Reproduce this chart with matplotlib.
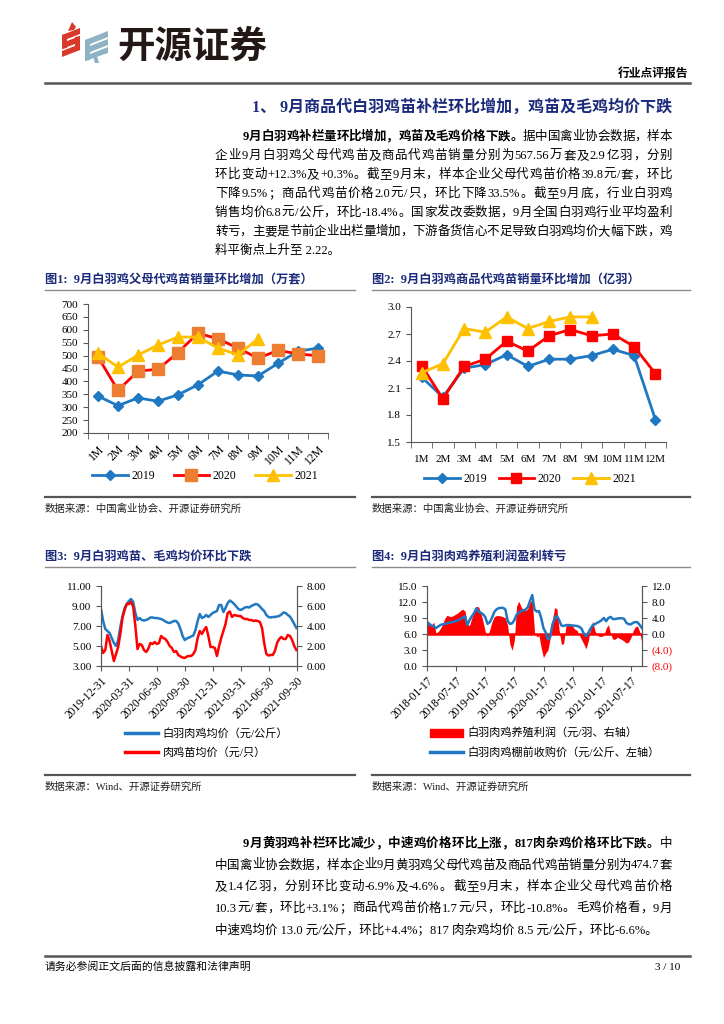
import numpy as np
import pandas as pd
import matplotlib
matplotlib.use('Agg')
import matplotlib.pyplot as plt
from matplotlib.patches import Polygon, Patch
from matplotlib.lines import Line2D
from matplotlib.ticker import FormatStrFormatter

plt.rcParams['font.family'] = ['Liberation Serif', 'Noto Sans CJK SC']
plt.rcParams['axes.unicode_minus'] = False

# ---- data: fig 1 / fig 2 (monthly) ----
months = ['1M', '2M', '3M', '4M', '5M', '6M', '7M', '8M', '9M', '10M', '11M', '12M']
pc_2019 = [343, 306, 336, 323, 348, 387, 440, 425, 421, 470, 517, 529]
pc_2020 = [495, 365, 440, 447, 512, 587, 565, 529, 490, 520, 507, 499]
pc_2021 = [510, 455, 502, 541, 572, 572, 529, 503, 565]
cc_2019 = [2.22, 2.00, 2.32, 2.36, 2.47, 2.34, 2.42, 2.42, 2.46, 2.53, 2.46, 1.75]
cc_2020 = [2.35, 1.98, 2.34, 2.42, 2.62, 2.51, 2.68, 2.75, 2.68, 2.70, 2.56, 2.26]
cc_2021 = [2.27, 2.37, 2.76, 2.72, 2.89, 2.76, 2.84, 2.89, 2.89]

# ---- data: fig 3 (weekly, from 2019-12-31) ----
broiler_price = [8.7, 7.5, 6.7, 6.5, 6.3, 5.8, 5.3, 5.0, 5.6, 6.9,
                 8.0, 8.8, 9.2, 9.5, 9.7, 9.4, 8.3, 7.6, 7.8, 7.6,
                 7.55, 7.6, 7.7, 7.85, 7.85, 7.8, 7.8, 7.75, 7.7, 7.6,
                 7.45, 7.35, 7.3, 7.4, 7.5, 7.5, 7.25, 6.7, 6.0, 5.6,
                 5.75, 5.85, 5.95, 6.05, 6.6, 7.5, 8.2, 7.8, 7.9, 8.1,
                 7.9, 8.1, 8.3, 8.4, 8.5, 9.1, 9.1, 8.4, 8.8, 9.3,
                 9.55, 9.4, 9.2, 8.95, 8.7, 8.6, 8.7, 8.85, 8.9, 8.85,
                 9.0, 9.1, 9.2, 9.15, 8.95, 8.7, 8.5, 8.1, 7.9, 7.85,
                 7.9, 7.9, 7.95, 8.0, 8.15, 8.35, 8.3, 8.1, 7.95, 7.6,
                 7.2, 6.8]
chick_price = [2.0, 1.3, 1.6, 3.1, 2.5, 1.5, 0.5, 1.2, 1.9, 3.2,
               4.8, 5.6, 6.2, 6.2, 6.4, 5.9, 4.0, 1.7, 2.2, 2.1,
               1.6, 1.4, 1.7, 2.3, 2.2, 2.4, 2.2, 2.3, 3.0, 2.8,
               2.7, 2.4, 2.0, 1.8, 1.4, 1.5, 1.1, 0.95, 0.85, 0.8,
               0.95, 1.0, 1.0, 1.2, 1.6, 2.8, 3.5, 3.2, 3.6, 3.9,
               3.0, 1.9, 1.9, 1.8, 1.0, 2.0, 2.8, 3.5, 4.2, 5.3,
               5.45, 4.9, 5.1, 5.05, 5.0, 5.0, 4.8, 4.7, 4.7, 4.6,
               4.6, 4.5, 4.55, 4.5, 4.4, 3.8, 2.3, 1.2, 1.05, 1.1,
               1.1, 1.5, 2.3, 2.7, 2.9, 2.7, 2.7, 3.1, 3.0, 2.6,
               2.0, 1.6]
dates3 = pd.date_range('2019-12-31', periods=len(broiler_price), freq='7D')
ticks3 = ['2019-12-31', '2020-03-31', '2020-06-30', '2020-09-30',
          '2020-12-31', '2021-03-31', '2021-06-30', '2021-09-30']

# ---- data: fig 4 (biweekly, from 2018-01-17) ----
farm_price = [8.25, 7.9, 7.55, 7.5, 7.1, 7.4, 7.7, 7.8, 7.9, 8.0,
              8.15, 8.2, 8.3, 8.45, 8.6, 8.8, 9.1, 9.3, 7.7, 8.6,
              9.3, 9.9, 10.8, 10.2, 10.0, 9.7, 9.2, 7.9, 8.2, 9.0,
              10.1, 10.6, 10.85, 10.9, 10.9, 10.6, 8.5, 7.9, 8.0, 8.6,
              9.6, 10.0, 10.3, 10.4, 10.6, 11.0, 12.2, 13.3, 10.6, 10.2,
              10.3, 9.0, 7.1, 6.3, 5.0, 5.4, 7.8, 8.9, 9.4, 8.6,
              7.6, 7.5, 7.65, 7.7, 7.6, 7.6, 7.55, 7.5, 7.35, 7.0,
              6.1, 5.6, 6.2, 7.0, 7.65, 7.85, 8.1, 8.3, 8.6, 9.0,
              8.4, 9.0, 9.2, 8.8, 8.8, 8.9, 8.95, 8.95, 8.85, 8.1,
              7.85, 7.8, 8.1, 8.25, 8.2, 7.7, 7.1]
profit = [3.4, 2.8, 2.2, 3.0, 0.2, 0.6, 1.4, 2.5, 4.0, 4.7,
          4.4, 4.4, 4.7, 5.0, 5.4, 5.9, 6.2, 5.7, 2.4, 2.2,
          4.0, 5.5, 6.9, 6.8, 5.3, 3.2, 0.6, -0.6, 1.0, 3.0,
          4.3, 4.6, 4.6, 4.5, 4.3, 4.0, 2.2, -2.5, -4.1, -1.5,
          7.0, 8.2, 6.8, 6.0, 5.9, 6.3, 8.0, 8.5, 0.5, -0.7,
          -0.4, -3.5, -5.9, -4.8, -4.0, -1.0, 3.5, 6.6, 6.3, 1.0,
          -2.6, -2.4, 1.9, 2.6, 2.6, 1.9, 1.2, 0.9, -0.3, -1.4,
          -2.5, -3.7, -1.8, 1.5, 3.2, 0.8, -0.3, -0.6, -0.6, -0.3,
          1.5, 2.3, 0.0, -1.3, -1.3, -0.8, -1.1, -1.4, -1.8, -2.3,
          -2.0, -1.0, 0.8, 1.8, 2.0, 0.5, -2.4]
dates4 = pd.date_range('2018-01-17', periods=len(farm_price), freq='14D')
ticks4 = ['2018-01-17', '2018-07-17', '2019-01-17', '2019-07-17',
          '2020-01-17', '2020-07-17', '2021-01-17', '2021-07-17']
right4 = [-8, -4, 0, 4, 8, 12]
right4_labels = ['(8.0)', '(4.0)', '0.0', '4.0', '8.0', '12.0']

# ---- text ----
para1 = [
    [('9月白羽鸡补栏量环比增加，鸡苗及毛鸡价格下跌。', 'bold'), ('据中国禽业协会数据，样本', 'normal')],
    [('企业 9 月白羽鸡父母代鸡苗及商品代鸡苗销量分别为 567.56 万套及 2.9 亿羽，分别', 'normal')],
    [('环比变动+12.3%及+0.3%。截至 9 月末，样本企业父母代鸡苗价格 39.8 元/套，环比', 'normal')],
    [('下降 9.5%；商品代鸡苗价格 2.0 元/只，环比下降 33.5%。截至 9 月底，行业白羽鸡', 'normal')],
    [('销售均价 6.8 元/公斤，环比-18.4%。国家发改委数据，9 月全国白羽鸡行业平均盈利', 'normal')],
    [('转亏，主要是节前企业出栏量增加，下游备货信心不足导致白羽鸡均价大幅下跌，鸡', 'normal')],
    [('料平衡点上升至 2.22。', 'normal')],
]
para2 = [
    [('9月黄羽鸡补栏环比减少，中速鸡价格环比上涨，817 肉杂鸡价格环比下跌。', 'bold'), ('中', 'normal')],
    [('中国禽业协会数据，样本企业 9 月黄羽鸡父母代鸡苗及商品代鸡苗销量分别为 474.7 套', 'normal')],
    [('及 1.4 亿羽，分别环比变动-6.9%及-4.6%。截至 9 月末，样本企业父母代鸡苗价格', 'normal')],
    [('10.3 元/套，环比+3.1%；商品代鸡苗价格 1.7 元/只，环比-10.8%。毛鸡价格看，9 月', 'normal')],
    [('中速鸡均价 13.0 元/公斤，环比+4.4%；817 肉杂鸡均价 8.5 元/公斤，环比-6.6%。', 'normal')],
]

NAVY = '#1B2A7B'
BLUE = '#1F78C1'
RED = '#FF0000'
GOLD = '#FFC000'
ORANGE = '#ED7D31'
AXC = '#595959'

W, H = 724, 1024
fig = plt.figure(figsize=(W / 100, H / 100), dpi=100)
bg = fig.add_axes([0, 0, 1, 1])
bg.set_xlim(0, W)
bg.set_ylim(H, 0)
bg.axis('off')
rend = fig.canvas.get_renderer()


def box(x0, y0, x1, y1):
    return [x0 / W, 1 - y1 / H, (x1 - x0) / W, (y1 - y0) / H]


def text_w(s, wgt, size):
    t = bg.text(0, 0, s, fontsize=size, fontweight=wgt)
    w = t.get_window_extent(rend).width
    t.remove()
    return w


def para_line(x0, x1, y, parts, justify=True, size=9):
    if not justify:
        x = x0
        for s, wgt in parts:
            bg.text(x, y, s, fontsize=size, fontweight=wgt, va='baseline')
            x += text_w(s, wgt, size)
        return
    toks = []
    for s, wgt in parts:
        buf = ''
        for ch in s:
            if ch == ' ':
                if buf:
                    toks.append((buf, wgt))
                buf = ''
            elif ord(ch) < 128:
                buf += ch
            else:
                if buf:
                    toks.append((buf, wgt))
                buf = ''
                toks.append((ch, wgt))
        if buf:
            toks.append((buf, wgt))
    widths = [text_w(s, wgt, size) for s, wgt in toks]
    gap = (x1 - x0 - sum(widths)) / (len(toks) - 1)
    x = x0
    for (s, wgt), w in zip(toks, widths):
        bg.text(x, y, s, fontsize=size, fontweight=wgt, va='baseline')
        x += w + gap


# ---- header / logo ----
red_bars = [[(62, 35), (80, 28), (80, 34), (62, 41)],
            [(62, 43), (80, 36), (80, 42), (62, 49)],
            [(62, 51), (80, 44), (80, 50), (62, 57)],
            [(62, 35), (67, 34), (67, 48), (62, 49)],
            [(75, 37), (80, 36), (80, 50), (75, 51)],
            [(68, 31), (72, 22), (76, 27), (74, 30)]]
for pts in red_bars:
    bg.add_patch(Polygon(pts, closed=True, color='#D9392B', lw=0))
blue_bars = [[(85, 40), (108, 31), (108, 37), (85, 46)],
             [(85, 48), (108, 39), (108, 45), (85, 54)],
             [(85, 56), (108, 47), (108, 53), (85, 61)],
             [(85, 40), (90, 39), (90, 60), (85, 61)],
             [(93, 57), (97, 56), (99, 63), (95, 63)]]
for pts in blue_bars:
    bg.add_patch(Polygon(pts, closed=True, color='#8FB3C4', lw=0))
bg.text(117, 46, '开源证券', fontsize=27, fontweight='bold', family=['Noto Sans CJK SC'],
        va='center', ha='left', color='#231815')
bg.text(688, 74, '行业点评报告', fontsize=8.5, fontweight='bold', ha='right', va='center')
bg.plot([45, 690], [83, 83], color='#555555', lw=1.8)
bg.text(672, 108, '1、 9月商品代白羽鸡苗补栏环比增加，鸡苗及毛鸡均价下跌', ha='right', va='center',
        fontsize=11.5, fontweight='bold', color=NAVY)

for i, parts in enumerate(para1):
    x0 = 243 if i == 0 else 215
    para_line(x0, 672, 140 + 19 * i, parts, justify=(i < len(para1) - 1))

for i, parts in enumerate(para2):
    x0 = 243 if i == 0 else 215
    para_line(x0, 672, 847 + 21.5 * i, parts, justify=(i < len(para2) - 1))

# chart frames (titles, rules, sources)
titles = [(45, 355, 280, '图1:  9月白羽鸡父母代鸡苗销量环比增加（万套）', '数据来源：中国禽业协会、开源证券研究所', 497),
          (372, 690, 280, '图2:  9月白羽鸡商品代鸡苗销量环比增加（亿羽）', '数据来源：中国禽业协会、开源证券研究所', 497),
          (45, 355, 557, '图3:  9月白羽鸡苗、毛鸡均价环比下跌', '数据来源：Wind、开源证券研究所', 775),
          (372, 690, 557, '图4:  9月白羽肉鸡养殖利润盈利转亏', '数据来源：Wind、开源证券研究所', 775)]
for x0, x1, ty, title, src, ry in titles:
    bg.text(x0, ty, title, fontsize=8.8, fontweight='bold', color=NAVY, va='center')
    bg.plot([x0, x1], [ty + 10, ty + 10], color='#8C8C8C', lw=1)
    bg.plot([x0, x1], [ry, ry], color='#555555', lw=1.6)
    bg.text(x0, ry + 12, src, fontsize=7.5, va='center', color='#222222')

# footer
bg.plot([45, 690], [956, 956], color='#555555', lw=1.8)
bg.text(45, 967, '请务必参阅正文后面的信息披露和法律声明', fontsize=7.8, va='center')
bg.text(680, 967, '3 / 10', fontsize=8, va='center', ha='right')


def style_axes(ax):
    for s in ax.spines.values():
        s.set_color(AXC)
        s.set_linewidth(0.8)
    ax.tick_params(colors=AXC, labelcolor='black', labelsize=8, direction='out', length=3.5, width=0.8)


# ---- chart 1 ----
x = np.arange(12)
ax1 = fig.add_axes(box(88, 304, 328, 433))
ax1.plot(x, pc_2019, color=BLUE, marker='D', ms=5, lw=2, label='2019')
ax1.plot(x, pc_2020, color=RED, marker='s', ms=8, mfc=ORANGE, mec=ORANGE, lw=2, label='2020')
ax1.plot(np.arange(len(pc_2021)), pc_2021, color=GOLD, marker='^', ms=8, lw=2, label='2021')
ax1.set_xlim(-0.5, 11.5)
ax1.set_ylim(200, 700)
ax1.set_yticks(range(200, 701, 50))
style_axes(ax1)
ax1.spines['top'].set_visible(False)
ax1.spines['right'].set_visible(False)
ax1.set_xticks(x)
ax1.set_xticklabels(months, rotation=45, ha='right', rotation_mode='anchor')
ax1.set_xticks(np.arange(-0.5, 12, 1), minor=True)
ax1.tick_params(axis='x', which='major', length=0, pad=7, labelsize=8.5)
ax1.tick_params(axis='x', which='minor', length=4, color=AXC)
ax1.legend(ncol=3, loc='center', bbox_to_anchor=(205 / W, 1 - 476 / H), bbox_transform=fig.transFigure,
           frameon=False, fontsize=8.5, handlelength=3, columnspacing=1.6, handletextpad=0.3)

# ---- chart 2 ----
ax2 = fig.add_axes(box(411, 307, 666, 442))
ax2.plot(x, cc_2019, color=BLUE, marker='D', ms=5, lw=2, label='2019')
ax2.plot(x, cc_2020, color=RED, marker='s', ms=7, lw=2, label='2020')
ax2.plot(np.arange(len(cc_2021)), cc_2021, color=GOLD, marker='^', ms=8, lw=2, label='2021')
ax2.set_xlim(-0.5, 11.5)
ax2.set_ylim(1.5, 3.0)
ax2.set_yticks(np.arange(1.5, 3.01, 0.3))
ax2.yaxis.set_major_formatter(FormatStrFormatter('%.1f'))
style_axes(ax2)
ax2.spines['top'].set_visible(False)
ax2.spines['right'].set_visible(False)
ax2.set_xticks(x)
ax2.set_xticklabels(months)
ax2.set_xticks(np.arange(-0.5, 12, 1), minor=True)
ax2.tick_params(axis='x', which='major', length=0, pad=9)
ax2.tick_params(axis='x', which='minor', length=4, color=AXC)
ax2.legend(ncol=3, loc='center', bbox_to_anchor=(530 / W, 1 - 479 / H), bbox_transform=fig.transFigure,
           frameon=False, fontsize=8.5, handlelength=3, columnspacing=1.0, handletextpad=0.3)

# ---- chart 3 ----
ax3 = fig.add_axes(box(101, 586, 297, 666))
ax3r = ax3.twinx()
ax3.plot(dates3, broiler_price, color=BLUE, lw=1.8)
ax3r.plot(dates3, chick_price, color=RED, lw=1.8)
ax3.set_ylim(3, 11)
ax3.set_yticks([3, 5, 7, 9, 11])
ax3.yaxis.set_major_formatter(FormatStrFormatter('%.2f'))
ax3r.set_ylim(0, 8)
ax3r.set_yticks([0, 2, 4, 6, 8])
ax3r.yaxis.set_major_formatter(FormatStrFormatter('%.2f'))
ax3.set_xlim(pd.Timestamp('2019-12-31'), pd.Timestamp('2021-09-30'))
ax3.set_xticks(pd.to_datetime(ticks3))
ax3.set_xticklabels(ticks3, rotation=45, ha='right', rotation_mode='anchor')
for a in (ax3, ax3r):
    style_axes(a)
    a.spines['top'].set_visible(False)
ax3.tick_params(axis='x', pad=3, labelsize=8.3)
ax3.legend(handles=[Line2D([], [], color=BLUE, lw=2.5), Line2D([], [], color=RED, lw=2.5)],
           labels=['白羽肉鸡均价（元/公斤）', '肉鸡苗均价（元/只）'], loc='center left',
           bbox_to_anchor=(115 / W, 1 - 743 / H), bbox_transform=fig.transFigure, frameon=False,
           fontsize=8, handlelength=3, labelspacing=0.75, handletextpad=0.4)

# ---- chart 4 ----
ax4 = fig.add_axes(box(427, 586, 642, 666))
ax4r = ax4.twinx()
ax4r.fill_between(dates4, 0, profit, color=RED, lw=0)
ax4r.axhline(0, color=RED, lw=1.8)
ax4.plot(dates4, farm_price, color=BLUE, lw=1.8)
ax4.set_zorder(ax4r.get_zorder() + 1)
ax4.patch.set_visible(False)
ax4.set_ylim(0, 15)
ax4.set_yticks(np.arange(0, 15.1, 3))
ax4.yaxis.set_major_formatter(FormatStrFormatter('%.1f'))
ax4r.set_ylim(-8, 12)
ax4r.set_yticks(right4)
ax4r.set_yticklabels(right4_labels)
ax4.set_xlim(dates4[0], dates4[-1])
ax4.set_xticks(pd.to_datetime(ticks4))
ax4.set_xticklabels(ticks4, rotation=45, ha='right', rotation_mode='anchor')
for a in (ax4, ax4r):
    style_axes(a)
    a.spines['top'].set_visible(False)
for v, lab in zip(right4, ax4r.get_yticklabels()):
    if v < 0:
        lab.set_color(RED)
ax4.tick_params(axis='x', pad=3, labelsize=8.3)
ax4.legend(handles=[Patch(color=RED), Line2D([], [], color=BLUE, lw=2.5)],
           labels=['白羽肉鸡养殖利润（元/羽、右轴）', '白羽肉鸡棚前收购价（元/公斤、左轴）'], loc='center left',
           bbox_to_anchor=(420 / W, 1 - 743 / H), bbox_transform=fig.transFigure, frameon=False,
           fontsize=8, handlelength=3, labelspacing=0.75, handletextpad=0.4)

fig.savefig('out.png', dpi=100)
